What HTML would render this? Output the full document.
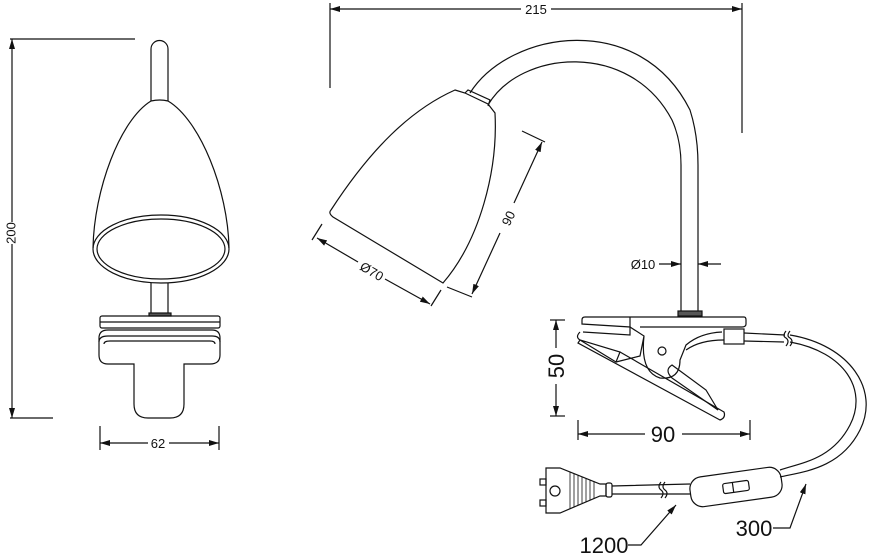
<!DOCTYPE html>
<html><head><meta charset="utf-8"><style>
html,body{margin:0;padding:0;background:#fff;}
svg{display:block;}
text{font-family:"Liberation Sans",sans-serif;fill:#111;}
</style></head><body>
<svg width="876" height="556" viewBox="0 0 876 556" xmlns="http://www.w3.org/2000/svg">
<defs>
<marker id="ar" viewBox="0 0 10 6" refX="10" refY="3" markerWidth="10" markerHeight="6" markerUnits="userSpaceOnUse" orient="auto-start-reverse"><path d="M0,0 L10,3 L0,6 z" fill="#111"/></marker>
</defs>
<g fill="none" stroke="#111" stroke-width="1.2">
<!-- LEFT VIEW dims -->
<line x1="10" y1="39" x2="135" y2="39"/>
<line x1="10" y1="418" x2="53" y2="418"/>
<line x1="12" y1="39" x2="12" y2="222" marker-start="url(#ar)"/>
<line x1="12" y1="244" x2="12" y2="418" marker-end="url(#ar)"/>
<line x1="100" y1="426" x2="100" y2="450"/>
<line x1="219" y1="426" x2="219" y2="450"/>
<line x1="100" y1="443" x2="148" y2="443" marker-start="url(#ar)"/>
<line x1="169" y1="443" x2="219" y2="443" marker-end="url(#ar)"/>
<!-- left stem -->
<path d="M151,101 L151,49 A8.5,8.5 0 0 1 168,49 L168,101"/>
<!-- shade -->
<path d="M151,101 C120,120 94,190 93,248 M168,101 C200,120 228,190 229,248"/>
<path d="M151,101 Q160,99 168,101"/>
<ellipse cx="161" cy="249" rx="68" ry="34"/>
<ellipse cx="161" cy="249" rx="64" ry="30"/>
<path d="M151,283 L151,315 M168,283 L168,315"/>
<rect x="149" y="313" width="22" height="3" fill="#555"/>
<rect x="100" y="316" width="120" height="12" rx="2"/>
<line x1="100" y1="322" x2="220" y2="322"/>
<path d="M108,330 L212,330 Q220,330 220,338 L220,355 Q220,364 210,364 L184,364 L184,404 Q184,418 170,418 L148,418 Q134,418 134,404 L134,364 L108,364 Q99,364 99,355 L99,338 Q99,330 108,330 Z"/>
<path d="M99,342 Q99,336 108,336 L212,336 Q220,336 220,342"/>
<path d="M104,344 Q104,341 110,341 L210,341 Q215,341 215,344"/>

<!-- RIGHT VIEW dims -->
<line x1="330" y1="3" x2="330" y2="88"/>
<line x1="742" y1="3" x2="742" y2="133"/>
<line x1="330" y1="9" x2="521" y2="9" marker-start="url(#ar)"/>
<line x1="551" y1="9" x2="742" y2="9" marker-end="url(#ar)"/>
<!-- arm -->
<path d="M470,93 C510,30 640,10 690,110 Q698,135 698,165 L698,312"/>
<path d="M488,105 C520,50 630,40 672,120 Q681,140 681,165 L681,312"/>
<rect x="678" y="311" width="24" height="5" fill="#555"/>
<!-- shade -->
<path d="M455,90 L465,93 L488,104 L495,113 C498,170 480,240 443,283 L333,217 Q328,213 331,210 C370,150 410,110 455,90 Z"/>
<path d="M465,93 L468,90 L490,100 L488,106"/>
<!-- Ø70 dim -->
<line x1="322" y1="224" x2="312" y2="240"/>
<line x1="441" y1="290" x2="431" y2="306"/>
<line x1="317" y1="238" x2="358" y2="262" marker-start="url(#ar)"/>
<line x1="385" y1="279" x2="430" y2="304" marker-end="url(#ar)"/>
<!-- 90 dim -->
<line x1="522" y1="131" x2="545" y2="142"/>
<line x1="447" y1="287" x2="472" y2="297"/>
<line x1="542" y1="142" x2="514" y2="203" marker-start="url(#ar)"/>
<line x1="500" y1="233" x2="472" y2="294" marker-end="url(#ar)"/>
<!-- Ø10 -->
<line x1="659" y1="264" x2="681" y2="264" marker-end="url(#ar)"/>
<line x1="721" y1="264" x2="698" y2="264" marker-end="url(#ar)"/>

<!-- CLIP -->
<path d="M585,317 L744,317 Q746,317 746,320 L746,324 Q746,327 742,327 L640,327"/>
<path d="M585,317 Q582,317 582,320 L582,324 L630,327 L630,335 L583,332"/>
<path d="M630,317 L630,327"/>
<path d="M580,332 Q575,337 580,340 L620,352 L616,362 L580,340"/>
<path d="M580,340 L578,343 L720,420 Q726,418 724,412 L620,352"/>
<path d="M616,362 L640,356 L644,336 L630,327 M644,336 Q640,372 660,378 Q680,380 680,360 L686,345 Q700,333 722,332"/>
<path d="M686,350 Q700,340 724,340"/>
<circle cx="662" cy="351" r="4"/>
<path d="M672,365 Q664,370 672,378 L718,410 L706,390 Z"/>
<rect x="724" y="329" width="20" height="15"/>
<!-- 50 dim -->
<line x1="550" y1="320" x2="565" y2="320"/>
<line x1="550" y1="416" x2="565" y2="416"/>
<line x1="556" y1="320" x2="556" y2="348" marker-start="url(#ar)"/>
<line x1="556" y1="384" x2="556" y2="416" marker-end="url(#ar)"/>
<!-- 90 dim -->
<line x1="578" y1="420" x2="578" y2="440"/>
<line x1="750" y1="420" x2="750" y2="440"/>
<line x1="578" y1="434" x2="645" y2="434" marker-start="url(#ar)"/>
<line x1="682" y1="434" x2="750" y2="434" marker-end="url(#ar)"/>
<!-- cord -->
<path d="M744,333 L785,335 M744,341 L784,342"/>
<path d="M786,331 Q782,336 786,338 Q790,341 786,346 M790,331 Q786,336 790,338 Q794,341 790,346"/>
<path d="M790,335 C850,345 880,390 860,430 C840,470 800,472 780,477"/>
<path d="M790,342 C845,352 868,390 850,425 C832,460 800,463 780,470"/>
<!-- switch -->
<g transform="rotate(-8 736 487)">
<rect x="690" y="472" width="92" height="30" rx="12"/>
<rect x="723" y="482" width="26" height="10" rx="2"/>
<line x1="733" y1="482" x2="733" y2="492"/>
</g>
<path d="M690,484 L612,486 M690,494 L612,494"/>
<path d="M661,482 Q657,487 661,490 Q665,493 661,498 M665,482 Q661,487 665,490 Q669,493 665,498"/>
<!-- plug -->
<rect x="606" y="483" width="6" height="14" rx="2"/>
<path d="M546,468 L560,468 L600,484 L606,484 L606,496 L600,496 L560,513 L546,513 Z"/>
<g stroke-width="0.8">
<line x1="570" y1="472" x2="570" y2="509"/><line x1="574" y1="474" x2="574" y2="507"/><line x1="578" y1="475" x2="578" y2="505"/><line x1="582" y1="477" x2="582" y2="503"/><line x1="586" y1="478" x2="586" y2="502"/><line x1="590" y1="480" x2="590" y2="500"/><line x1="594" y1="481" x2="594" y2="499"/>
</g>
<circle cx="555" cy="491" r="5"/>
<rect x="540" y="479" width="6" height="6"/>
<rect x="540" y="500" width="6" height="6"/>
<!-- leaders -->
<path d="M628,545 L641,545 L676,505" marker-end="url(#ar)"/>
<path d="M773,528 L790,528 L806,484" marker-end="url(#ar)"/>
</g>
<g font-size="13">
<text x="12" y="233" text-anchor="middle" transform="rotate(-90 12 233)" dominant-baseline="middle" style="dominant-baseline:middle">200</text>
<text x="158" y="448" text-anchor="middle">62</text>
<text x="536" y="14" text-anchor="middle">215</text>
<text x="643" y="269" text-anchor="middle">Ø10</text>
<text x="372" y="276" text-anchor="middle" transform="rotate(30 372 271)">Ø70</text>
<text x="508" y="223" text-anchor="middle" transform="rotate(-64 508 218)">90</text>
</g>
<g font-size="22">
<text x="564" y="366" text-anchor="middle" transform="rotate(-90 564 366)">50</text>
<text x="663" y="442" text-anchor="middle">90</text>
<text x="604" y="553" text-anchor="middle">1200</text>
<text x="754" y="536" text-anchor="middle">300</text>
</g>
</svg>
</body></html>
